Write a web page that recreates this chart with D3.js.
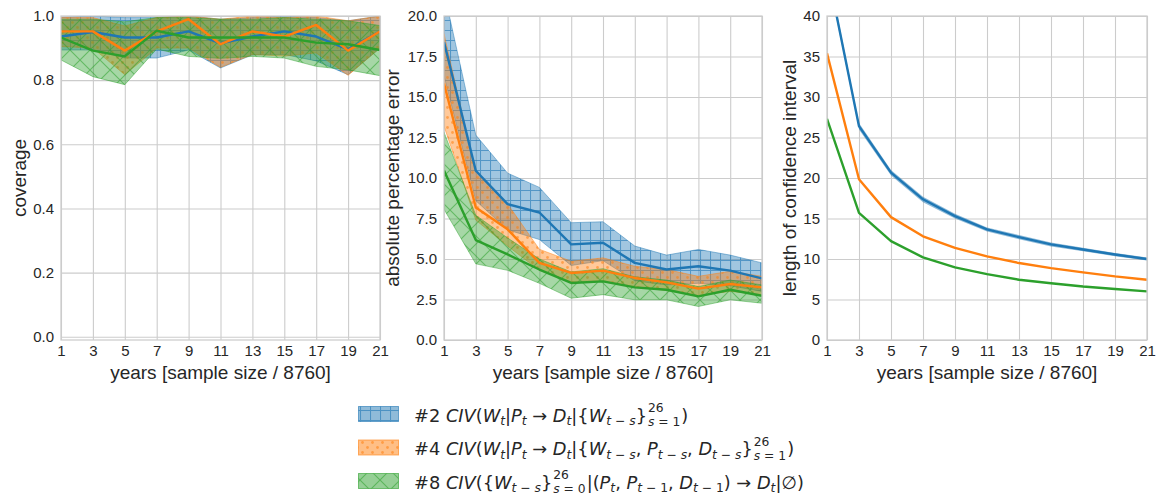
<!DOCTYPE html>
<html>
<head>
<meta charset="utf-8">
<script src="https://cdn.jsdelivr.net/npm/d3@7"></script>
<style>
body{margin:0;background:#fff;}
svg{display:block;}
.tick text{font-family:"Liberation Sans",Arial,sans-serif;font-size:15px;fill:#262626;}
.tick line{stroke:#cccccc;stroke-width:1.1;}
.axlabel{font-family:"Liberation Sans",Arial,sans-serif;font-size:19px;fill:#262626;}
.leg{font-family:"DejaVu Sans",sans-serif;fill:#262626;}
</style>
</head>
<body>
<script>
// three panels: coverage, abs. percentage error, CI length
(function(){

    //years on the x axis (also the x tick labels)
    var years = [1, 3, 5, 7, 9, 11, 13, 15, 17, 19, 21];

    //tick labels for the y axes
    var covTicks = [0.0, 0.2, 0.4, 0.6, 0.8, 1.0];
    var apeTicks = [0.0, 2.5, 5.0, 7.5, 10.0, 12.5, 15.0, 17.5, 20.0];
    var lenTicks = [0, 5, 10, 15, 20, 25, 30, 35, 40];

    //coverage (mean and band)
    var cov2 = [0.936, 0.950, 0.933, 0.933, 0.952, 0.915, 0.936, 0.952, 0.936, 0.896, 0.952];
    var cov2Lo = [0.894, 0.894, 0.869, 0.869, 0.894, 0.838, 0.879, 0.880, 0.860, 0.817, 0.900];
    var cov2Hi = [0.995, 1.000, 0.995, 0.995, 1.000, 0.990, 0.995, 1.000, 0.995, 0.985, 1.000];
    var cov4 = [0.952, 0.952, 0.892, 0.952, 0.990, 0.912, 0.952, 0.936, 0.972, 0.892, 0.952];
    var cov4Lo = [0.905, 0.900, 0.817, 0.900, 0.900, 0.840, 0.880, 0.875, 0.885, 0.815, 0.900];
    var cov4Hi = [0.995, 0.995, 0.969, 0.995, 1.000, 0.990, 1.000, 0.995, 1.000, 0.985, 1.000];
    var cov8 = [0.933, 0.892, 0.874, 0.954, 0.933, 0.933, 0.933, 0.933, 0.917, 0.912, 0.894];
    var cov8Lo = [0.863, 0.811, 0.786, 0.897, 0.874, 0.868, 0.874, 0.869, 0.843, 0.832, 0.814];
    var cov8Hi = [0.990, 0.990, 0.982, 0.995, 0.995, 0.990, 0.990, 0.995, 0.990, 0.985, 0.970];

    //absolute percentage error
    var ape2 = [18.4, 10.45, 8.39, 7.87, 5.90, 6.00, 4.76, 4.35, 4.55, 4.28, 3.80];
    var ape2Lo = [16.3, 8.6, 6.8, 6.2, 4.6, 4.9, 3.65, 3.4, 3.5, 3.35, 3.0];
    var ape2Hi = [21.5, 12.65, 10.3, 9.42, 7.24, 7.30, 5.80, 5.24, 5.59, 5.24, 4.76];
    var ape4 = [15.84, 8.18, 6.83, 4.76, 4.14, 4.28, 3.83, 3.56, 3.17, 3.46, 3.25];
    var ape4Lo = [13.2, 7.4, 5.8, 4.3, 3.6, 3.65, 3.3, 3.05, 2.75, 3.0, 2.8];
    var ape4Hi = [18.9, 10.3, 8.4, 5.6, 4.86, 5.07, 4.55, 4.35, 3.93, 4.24, 3.93];
    var ape8 = [10.46, 6.17, 5.28, 4.35, 3.52, 3.62, 3.25, 3.10, 2.69, 3.10, 2.73];
    var ape8Lo = [8.07, 4.7, 4.3, 3.5, 2.58, 2.8, 2.48, 2.48, 2.07, 2.48, 2.27];
    var ape8Hi = [12.83, 7.7, 6.3, 5.0, 4.2, 4.4, 3.9, 3.7, 3.3, 3.7, 3.4];

    //length of confidence interval
    var len2 = [45.9, 26.4, 20.67, 17.37, 15.3, 13.65, 12.7, 11.8, 11.17, 10.55, 10.0];
    var len2Lo = [45.4, 26.0, 20.3, 17.0, 15.0, 13.4, 12.45, 11.55, 10.95, 10.35, 9.8];
    var len2Hi = [46.4, 26.8, 21.0, 17.7, 15.6, 13.9, 12.95, 12.05, 11.4, 10.75, 10.2];
    var len4 = [35.4, 19.85, 15.17, 12.8, 11.37, 10.33, 9.5, 8.88, 8.35, 7.85, 7.44];
    var len8 = [27.3, 15.7, 12.2, 10.2, 8.97, 8.14, 7.44, 7.0, 6.6, 6.3, 6.0];

    //legend labels (_[..] subscript, ^[..] superscript)
    var legendLabels = [
        "#2 CIV(W_[t]|P_[t] → D_[t]|{W_[t − s]}^[26]_[s = 1])",
        "#4 CIV(W_[t]|P_[t] → D_[t]|{W_[t − s], P_[t − s], D_[t − s]}^[26]_[s = 1])",
        "#8 CIV({W_[t − s]}^[26]_[s = 0]|(P_[t], P_[t − 1], D_[t − 1]) → D_[t]|∅)"
    ];
    var colors = ["#1f77b4", "#ff7f0e", "#2ca02c"];
    var hatches = ["hatch-plus", "hatch-dots", "hatch-cross"];

    var width = 1158, height = 495;
    var top = 16, bottom = 340;

    var svg = d3.select("body").append("svg")
        .attr("width", width)
        .attr("height", height);

    setPatterns(svg);

    var panels = [
        {x0: 61, x1: 380, domain: [-0.01, 1], ticks: covTicks, fmt: d3.format(".1f"),
         label: "coverage", labelX: 19,
         series: [
            {mean: cov2, lo: cov2Lo, hi: cov2Hi, k: 0},
            {mean: cov4, lo: cov4Lo, hi: cov4Hi, k: 1},
            {mean: cov8, lo: cov8Lo, hi: cov8Hi, k: 2}]},
        {x0: 444, x1: 762, domain: [0, 20], ticks: apeTicks, fmt: d3.format(".1f"),
         label: "absolute percentage error", labelX: 392,
         series: [
            {mean: ape2, lo: ape2Lo, hi: ape2Hi, k: 0},
            {mean: ape4, lo: ape4Lo, hi: ape4Hi, k: 1},
            {mean: ape8, lo: ape8Lo, hi: ape8Hi, k: 2}]},
        {x0: 827, x1: 1147, domain: [0, 40], ticks: lenTicks, fmt: d3.format("d"),
         label: "length of confidence interval", labelX: 789,
         series: [
            {mean: len2, lo: len2Lo, hi: len2Hi, k: 0, plain: true},
            {mean: len4, k: 1},
            {mean: len8, k: 2}]}
    ];

    panels.forEach(function(p, i){ drawPanel(p, i); });
    drawLegend();

    function setPatterns(svg){
        var defs = svg.append("defs");
        defs.append("pattern")
            .attr("id", "hatch-plus")
            .attr("patternUnits", "userSpaceOnUse")
            .attr("width", 10).attr("height", 10)
            .append("path")
            .attr("d", "M0,0.5H10M0.5,0V10")
            .attr("stroke", colors[0])
            .attr("stroke-opacity", 0.6)
            .attr("stroke-width", 1.1);

        var dots = defs.append("pattern")
            .attr("id", "hatch-dots")
            .attr("patternUnits", "userSpaceOnUse")
            .attr("width", 10).attr("height", 10);
        [[2.5, 2.5], [7.5, 7.5]].forEach(function(c){
            dots.append("circle")
                .attr("cx", c[0]).attr("cy", c[1]).attr("r", 1.4)
                .attr("fill", colors[1])
                .attr("fill-opacity", 0.55);
        });

        defs.append("pattern")
            .attr("id", "hatch-cross")
            .attr("patternUnits", "userSpaceOnUse")
            .attr("width", 20).attr("height", 20)
            .append("path")
            .attr("d", "M-5,-5L25,25M25,-5L-5,25")
            .attr("stroke", colors[2])
            .attr("stroke-opacity", 0.55)
            .attr("stroke-width", 1.1);
    };

    function drawPanel(p, idx){
        var x = d3.scaleLinear().domain([1, 21]).range([p.x0, p.x1]);
        var y = d3.scaleLinear().domain(p.domain).range([bottom, top]);
        var g = svg.append("g");

        //grid + tick labels
        g.append("g")
            .attr("transform", "translate(0," + bottom + ")")
            .call(d3.axisBottom(x).tickValues(years).tickFormat(d3.format("d"))
                .tickSize(-(bottom - top)).tickPadding(5))
            .call(function(a){ a.select(".domain").remove(); });
        g.append("g")
            .attr("transform", "translate(" + p.x0 + ",0)")
            .call(d3.axisLeft(y).tickValues(p.ticks).tickFormat(p.fmt)
                .tickSize(-(p.x1 - p.x0)).tickPadding(7))
            .call(function(a){ a.select(".domain").remove(); });

        //clip to plot area
        svg.append("clipPath").attr("id", "clip" + idx)
            .append("rect")
            .attr("x", p.x0).attr("y", top)
            .attr("width", p.x1 - p.x0).attr("height", bottom - top);
        var plot = g.append("g").attr("clip-path", "url(#clip" + idx + ")");

        var area = d3.area()
            .x(function(d){ return x(d.year); })
            .y0(function(d){ return y(d.lo); })
            .y1(function(d){ return y(d.hi); });
        var line = d3.line()
            .x(function(d){ return x(d.year); })
            .y(function(d){ return y(d.v); });

        //bands first
        p.series.forEach(function(s){
            if (!s.lo) return;
            var data = years.map(function(yr, i){ return {year: yr, lo: s.lo[i], hi: s.hi[i]}; });
            plot.append("path")
                .attr("d", area(data))
                .attr("fill", colors[s.k])
                .attr("fill-opacity", s.plain ? 0.5 : 0.42)
                .attr("stroke", colors[s.k])
                .attr("stroke-opacity", s.plain ? 0 : 0.45)
                .attr("stroke-width", 1);
            if (!s.plain){
                plot.append("path")
                    .attr("d", area(data))
                    .attr("fill", "url(#" + hatches[s.k] + ")");
            }
        });
        //then the mean lines
        p.series.forEach(function(s){
            var data = years.map(function(yr, i){ return {year: yr, v: s.mean[i]}; });
            plot.append("path")
                .attr("d", line(data))
                .attr("fill", "none")
                .attr("stroke", colors[s.k])
                .attr("stroke-width", 2.4)
                .attr("stroke-linejoin", "round");
        });

        //frame
        g.append("rect")
            .attr("x", p.x0).attr("y", top)
            .attr("width", p.x1 - p.x0).attr("height", bottom - top)
            .attr("fill", "none")
            .attr("stroke", "#cccccc")
            .attr("stroke-width", 1.25);

        g.append("text")
            .attr("class", "axlabel")
            .attr("x", (p.x0 + p.x1) / 2)
            .attr("y", 379)
            .attr("text-anchor", "middle")
            .text("years [sample size / 8760]");
        g.append("text")
            .attr("class", "axlabel")
            .attr("transform", "translate(" + p.labelX + "," + ((top + bottom) / 2) + ") rotate(-90)")
            .attr("dy", "0.35em")
            .attr("text-anchor", "middle")
            .text(p.label);
    };

    //split a label into base / sub / sup groups
    function parseLabel(str){
        var groups = [], buf = "", i = 0;
        function flush(){ if (buf){ groups.push({base: buf}); buf = ""; } }
        while (i < str.length){
            var c = str[i];
            if ((c == "_" || c == "^") && str[i + 1] == "["){
                var end = str.indexOf("]", i);
                var inner = str.slice(i + 2, end);
                flush();
                if (c == "^" && str[end + 1] == "_" && str[end + 2] == "["){
                    var end2 = str.indexOf("]", end + 2);
                    groups.push({sup: inner, sub: str.slice(end + 3, end2)});
                    i = end2 + 1;
                } else {
                    groups.push(c == "_" ? {sub: inner} : {sup: inner});
                    i = end + 1;
                }
            } else {
                buf += c;
                i++;
            }
        }
        flush();
        return groups;
    };

    //letters italic, everything else upright; returns new x
    function drawRuns(g, s, x, y, size){
        var runs = s.match(/[A-Za-z]+|[^A-Za-z]+/g) || [];
        runs.forEach(function(r){
            var t = g.append("text")
                .attr("class", "leg")
                .attr("x", x).attr("y", y)
                .style("font-size", size + "px")
                .style("font-style", /[A-Za-z]/.test(r) ? "italic" : "normal")
                .style("white-space", "pre")
                .attr("xml:space", "preserve")
                .text(r);
            x += t.node().getComputedTextLength();
        });
        return x;
    };

    function drawLegend(){
        var lg = svg.append("g");
        var rowY = [414, 447.5, 481];
        var base = 17.8, small = 12.3;
        legendLabels.forEach(function(lab, i){
            var cy = rowY[i];
            lg.append("rect")
                .attr("x", 358.5).attr("y", cy - 7.5)
                .attr("width", 40).attr("height", 15)
                .attr("fill", colors[i]).attr("fill-opacity", 0.5)
                .attr("stroke", colors[i]).attr("stroke-opacity", 0.6);
            lg.append("rect")
                .attr("x", 358.5).attr("y", cy - 7.5)
                .attr("width", 40).attr("height", 15)
                .attr("fill", "url(#" + hatches[i] + ")");

            var x = 414, yb = cy + 7.5;
            parseLabel(lab).forEach(function(gr){
                if (gr.base) x = drawRuns(lg, gr.base, x, yb, base);
                else if (gr.sup && gr.sub){
                    var a = drawRuns(lg, gr.sup, x + 1, yb - 9.5, small);
                    var b = drawRuns(lg, gr.sub, x + 1, yb + 4.5, small);
                    x = Math.max(a, b) + 1;
                } else if (gr.sub) x = drawRuns(lg, gr.sub, x, yb + 3.5, small);
                else x = drawRuns(lg, gr.sup, x, yb - 7.5, small);
            });
        });
    };

})();
</script>
</body>
</html>
